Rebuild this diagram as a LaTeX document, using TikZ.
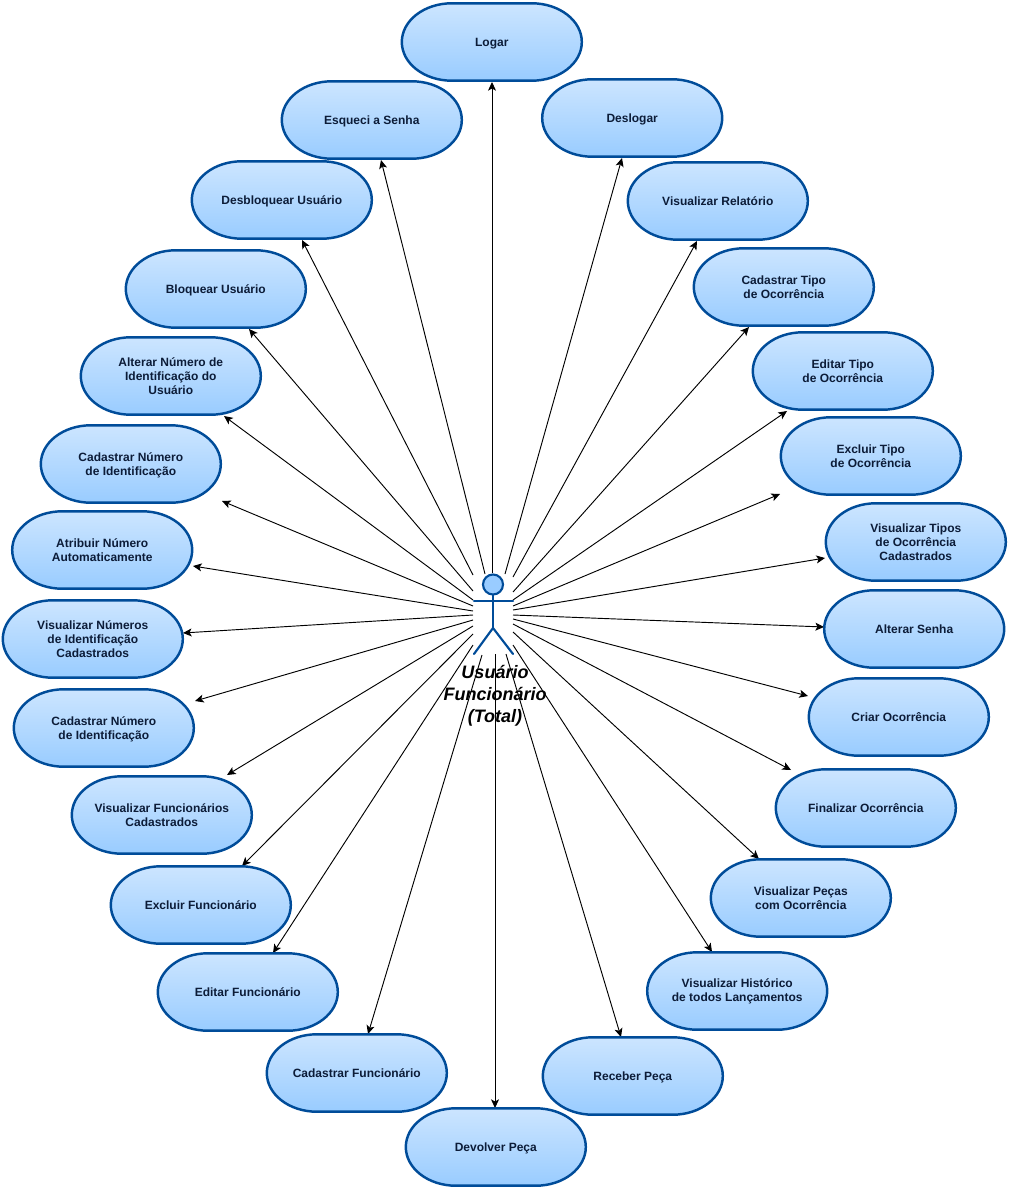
\documentclass[tikz,border=0pt]{standalone}
\usepackage{fontspec}
\setmainfont{Liberation Sans}
\usetikzlibrary{arrows.meta}
\definecolor{ucline}{HTML}{004C99}
\definecolor{uctop}{HTML}{CCE5FF}
\definecolor{ucbot}{HTML}{99CCFF}
\definecolor{uctext}{HTML}{0C1C38}
\tikzset{
  ucbox/.style={draw=ucline,line width=1.85pt,top color=uctop,bottom color=ucbot,middle color=uctop!50!ucbot},
  uclabel/.style={align=center,inner sep=0pt,font=\bfseries\fontsize{9}{10.5}\selectfont,text=uctext},
  actorline/.style={draw=ucline,line width=1.6pt,line cap=round},
  assoc/.style={draw=black,line width=0.7pt,-{Stealth[length=6.5pt,width=6pt,inset=1.6pt]}},
  actorlabel/.style={align=center,inner sep=0pt,font=\bfseries\itshape\fontsize{13.5}{16.5}\selectfont,text=black}
}
% optional argument: extra downward shift of the label, in pixels
\newcommand{\ucase}[5][0.5]{%
  \shadedraw[ucbox] ({#3-40},{#4-38.7}) -- ({#3+40},{#4-38.7})
    .. controls ({#3+67.6},{#4-38.7}) and ({#3+90},{#4-21.4}) .. ({#3+90},{#4})
    .. controls ({#3+90},{#4+21.4}) and ({#3+67.6},{#4+38.7}) .. ({#3+40},{#4+38.7})
    -- ({#3-40},{#4+38.7})
    .. controls ({#3-67.6},{#4+38.7}) and ({#3-90},{#4+21.4}) .. ({#3-90},{#4})
    .. controls ({#3-90},{#4-21.4}) and ({#3-67.6},{#4-38.7}) .. ({#3-40},{#4-38.7}) -- cycle;
  \node[uclabel] (#2) at (#3,{#4+#1}) {#5};
}
\newcommand{\assocline}[5]{%
  \coordinate (from#1) at (#2,#3);
  \coordinate (to#1) at (#4,#5);
  \draw[assoc] (from#1) -- (to#1);
}
\begin{document}
\begin{tikzpicture}[x=0.75pt,y=-0.75pt]
\useasboundingbox (0,0) rectangle (1009,1191);
\fill[white] (0,0) rectangle (1009,1191);
% connectors
\assocline{logar}{492}{573}{492}{82}
\assocline{esqueci}{485}{574}{381}{160}
\assocline{desbloq}{473}{575}{302}{240}
\assocline{bloq}{473}{591}{249}{329}
\assocline{alterarnum}{473}{600}{224}{416}
\assocline{cadnumA}{473}{606}{222}{501}
\assocline{atribuir}{473}{611}{193}{566}
\assocline{visnum}{473}{615}{183}{633}
\assocline{cadnumB}{473}{620}{195}{701}
\assocline{visfunc}{473}{626}{227}{775}
\assocline{excfunc}{473}{634}{242}{866}
\assocline{editfunc}{473}{645}{273}{953}
\assocline{cadfunc}{482}{655}{368}{1034}
\assocline{devolver}{495}{654}{495}{1108}
\assocline{receber}{506}{654}{621}{1037}
\assocline{vishist}{513}{645}{712}{952}
\assocline{vispecas}{513}{632}{759}{859}
\assocline{finalizar}{513}{624}{791}{770}
\assocline{criar}{513}{619}{808}{696}
\assocline{senha}{513}{615}{824}{627}
\assocline{vistipos}{513}{610}{825}{558}
\assocline{exctipo}{513}{606}{780}{494}
\assocline{edittipo}{513}{600}{787}{411}
\assocline{cadtipo}{513}{592}{749}{327}
\assocline{visrel}{513}{577}{697}{241}
\assocline{deslogar}{505}{574}{622}{158}
% use cases
\ucase[1.7]{logar}{491.8}{42}{Logar}
\ucase[1.2]{esqueci}{371.8}{120}{Esqueci a Senha}
\ucase[1.2]{deslogar}{632.2}{118}{Deslogar}
\ucase[1.2]{desbloq}{281.8}{200}{Desbloquear Usuário}
\ucase[0.5]{visrel}{717.8}{201}{Visualizar Relatório}
\ucase[1.2]{bloq}{215.8}{289}{Bloquear Usuário}
\ucase{cadtipo}{783.8}{287}{Cadastrar Tipo\\de Ocorrência}
\ucase{alterarnum}{170.8}{376}{Alterar Número de\\Identificação do\\Usuário}
\ucase{edittipo}{842.8}{371}{Editar Tipo\\de Ocorrência}
\ucase[1]{cadnumA}{130.8}{464}{Cadastrar Número\\de Identificação}
\ucase{exctipo}{870.8}{456}{Excluir Tipo\\de Ocorrência}
\ucase{atribuir}{102.2}{550}{Atribuir Número\\Automaticamente}
\ucase{vistipos}{915.8}{542}{Visualizar Tipos\\de Ocorrência\\Cadastrados}
\ucase{visnum}{92.8}{639}{Visualizar Números\\de Identificação\\Cadastrados}
\ucase{senha}{914.2}{629}{Alterar Senha}
\ucase[1]{cadnumB}{103.8}{728}{Cadastrar Número\\de Identificação}
\ucase{criar}{898.8}{717}{Criar Ocorrência}
\ucase{visfunc}{161.8}{815}{Visualizar Funcionários\\Cadastrados}
\ucase{finalizar}{865.8}{808}{Finalizar Ocorrência}
\ucase{excfunc}{200.8}{905}{Excluir Funcionário}
\ucase{vispecas}{800.8}{898}{Visualizar Peças\\com Ocorrência}
\ucase{editfunc}{247.8}{992}{Editar Funcionário}
\ucase{vishist}{737.2}{991}{Visualizar Histórico\\de todos Lançamentos}
\ucase{cadfunc}{356.8}{1073}{Cadastrar Funcionário}
\ucase[1.2]{receber}{632.8}{1076}{Receber Peça}
\ucase[1.2]{devolver}{495.8}{1147}{Devolver Peça}
% actor
\draw[actorline,fill=ucbot] (493,584.5) circle[radius=10];
\draw[actorline] (493,595) -- (493,628);
\draw[actorline] (474,601) -- (513,601);
\draw[actorline] (474,654) -- (493,628) -- (513,654);
\node[actorlabel] (actor) at (495,696) {Usuário\\Funcionário\\(Total)};
\end{tikzpicture}
\end{document}
